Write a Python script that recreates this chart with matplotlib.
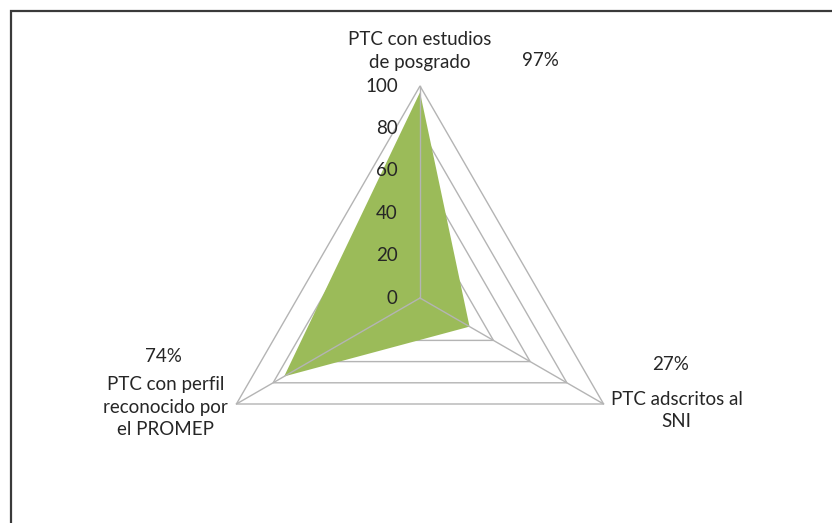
import numpy as np
import matplotlib.pyplot as plt
from matplotlib.patches import Rectangle

# Datos del radar
categorias = ["PTC con estudios\nde posgrado", "PTC adscritos al\nSNI", "PTC con perfil\nreconocido por\nel PROMEP"]
valores = [97, 27, 74]
niveles = [0, 20, 40, 60, 80, 100]
etiquetas_pct = ["97%", "27%", "74%"]

verde = "#9BBB59"
gris = "#B4B4B4"
plt.rcParams['font.family'] = ['Lato', 'DejaVu Sans']

fig = plt.figure(figsize=(8.32, 5.23), dpi=100)
ax = fig.add_axes([0, 0, 1, 1])
esc = 2.12  # pixeles por unidad
ax.set_xlim(-420 / esc, (832 - 420) / esc)
ax.set_ylim((298 - 523) / esc, 298 / esc)
ax.axis('off')

angulos = np.deg2rad([90, -30, 210])
cx, cy = np.cos(angulos), np.sin(angulos)

# Rejilla triangular
for n in niveles[1:]:
    ax.fill(n * cx, n * cy, facecolor='none', edgecolor=gris, lw=1.0, zorder=1)
for i in range(3):
    ax.plot([0, 100 * cx[i]], [0, 100 * cy[i]], color=gris, lw=1.0, zorder=3)

# Serie
v = np.array(valores)
ax.fill(v * cx, v * cy, facecolor=verde, edgecolor='none', zorder=2)

fs = 13.5
col = '#262626'
# Etiquetas del eje
for n in niveles:
    ax.text(-10.5, n, str(n), ha='right', va='center', fontsize=fs, color=col)

# Etiquetas de categorias y porcentajes
ax.text(0, 116.5, categorias[0], ha='center', va='center', fontsize=fs, color=col, linespacing=1.4)
ax.text(57, 112, etiquetas_pct[0], ha='center', va='center', fontsize=fs, color=col)
ax.text(118, -31.6, etiquetas_pct[1], ha='center', va='center', fontsize=fs, color=col)
ax.text(121, -53, categorias[1], ha='center', va='center', fontsize=fs, color=col, linespacing=1.4)
ax.text(-121, -27.8, etiquetas_pct[2], ha='center', va='center', fontsize=fs, color=col)
ax.text(-120, -51.5, categorias[2], ha='center', va='center', fontsize=fs, color=col, linespacing=1.4)

# Marco del grafico (solo se ven los bordes izquierdo y superior)
fig.patches.append(Rectangle((10.5, -30), 900, 523 - 10.5 + 30, transform=None, fill=False,
                             edgecolor='#3a3a3a', lw=1.6))

fig.savefig("out.png", dpi=100)
